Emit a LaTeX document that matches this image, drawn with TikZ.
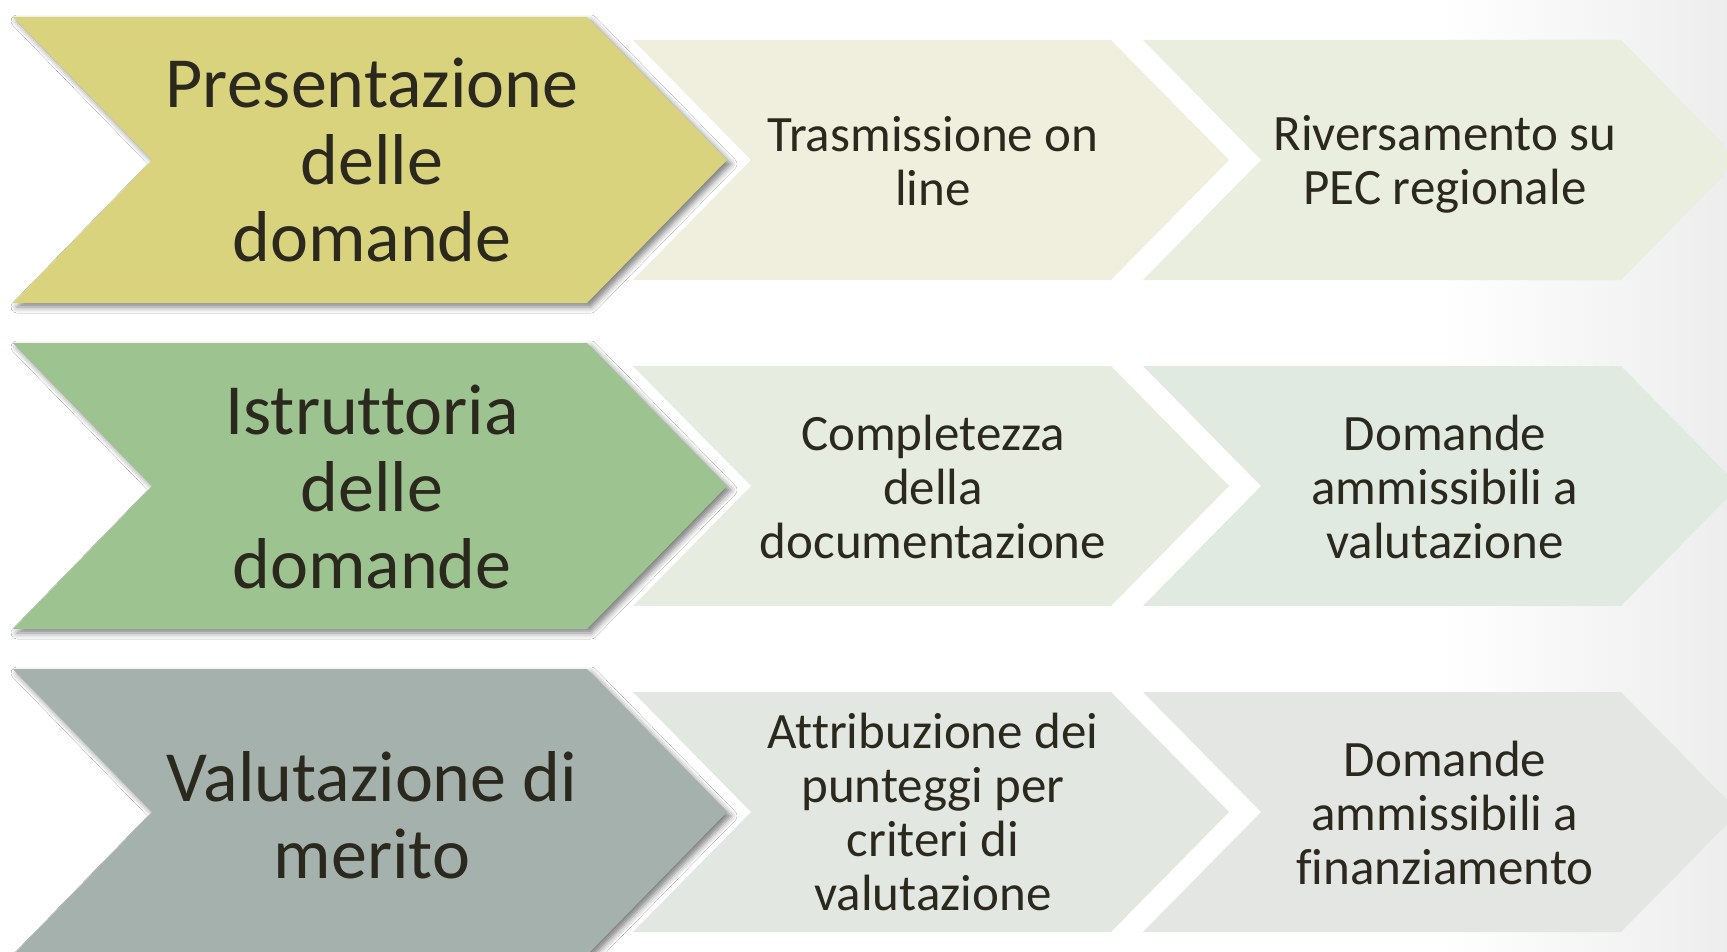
\documentclass[tikz,border=0pt]{standalone}
\usepackage{fontspec}
\setmainfont{Carlito}[Ligatures=CommonOff]
\usetikzlibrary{shadows.blur}
\definecolor{txt}{HTML}{2B281D}
\definecolor{bigA}{HTML}{D9D37E}
\definecolor{bigB}{HTML}{9DC490}
\definecolor{bigC}{HTML}{A5B1AC}
\definecolor{smAa}{HTML}{F0EFDE}
\definecolor{smAb}{HTML}{EAEEDF}
\definecolor{smBa}{HTML}{E6EDE0}
\definecolor{smBb}{HTML}{E1EAE0}
\definecolor{smCa}{HTML}{E2E7E1}
\definecolor{smCb}{HTML}{E4E6E3}
\newcommand\bigchev[2]{%
  \fill[#2, blur shadow={shadow xshift=4pt, shadow yshift=-4pt, shadow blur radius=6pt, shadow opacity=50}]
    (13,17+#1) -- (587,17+#1) -- (727,160+#1) -- (587,303+#1) -- (13,303+#1) -- (152,160+#1) -- cycle;}
\newcommand\smchev[3]{%
  \fill[#3] (#1,40+#2) -- (#1+478,40+#2) -- (#1+596,160+#2) -- (#1+478,280+#2) -- (#1,280+#2) -- (#1+118,160+#2) -- cycle;}
\tikzset{
  bigtext/.style={text=txt, align=center, font=\fontsize{72}{77}\selectfont, inner sep=0pt},
  smalltext/.style={text=txt, align=center, font=\fontsize{51}{54}\selectfont, inner sep=0pt}
}
\begin{document}
\begin{tikzpicture}[x=1pt, y=-1pt]
\useasboundingbox (0,0) rectangle (1727,952);
\clip (0,0) rectangle (1727,952);
\fill[white] (0,0) rectangle (1727,952);
\shade[left color=white, right color=black!7] (1440,0) rectangle (1727,952);
% row 1
\smchev{633}{0}{smAa}
\smchev{1143}{0}{smAb}
\bigchev{0}{bigA}
\node[bigtext] (p1) at (372,160) {Presentazione\\delle\\domande};
\node[smalltext] (a1) at (933,161) {Trasmissione on\\line};
\node[smalltext] (b1) at (1445,164) {Riversamento su\\PEC regionale};
% row 2
\smchev{633}{326}{smBa}
\smchev{1143}{326}{smBb}
\bigchev{326}{bigB}
\node[bigtext] (p2) at (372,487) {Istruttoria\\delle\\domande};
\node[smalltext] (a2) at (933,487) {Completezza\\della\\documentazione};
\node[smalltext] (b2) at (1445,487) {Domande\\ammissibili a\\valutazione};
% row 3
\smchev{633}{652}{smCa}
\smchev{1143}{652}{smCb}
\bigchev{652}{bigC}
\node[bigtext] (p3) at (372,815) {Valutazione di\\merito};
\node[smalltext] (a3) at (933,812) {Attribuzione dei\\punteggi per\\criteri di\\valutazione};
\node[smalltext] (b3) at (1445,813) {Domande\\ammissibili a\\finanziamento};
\end{tikzpicture}
\end{document}
